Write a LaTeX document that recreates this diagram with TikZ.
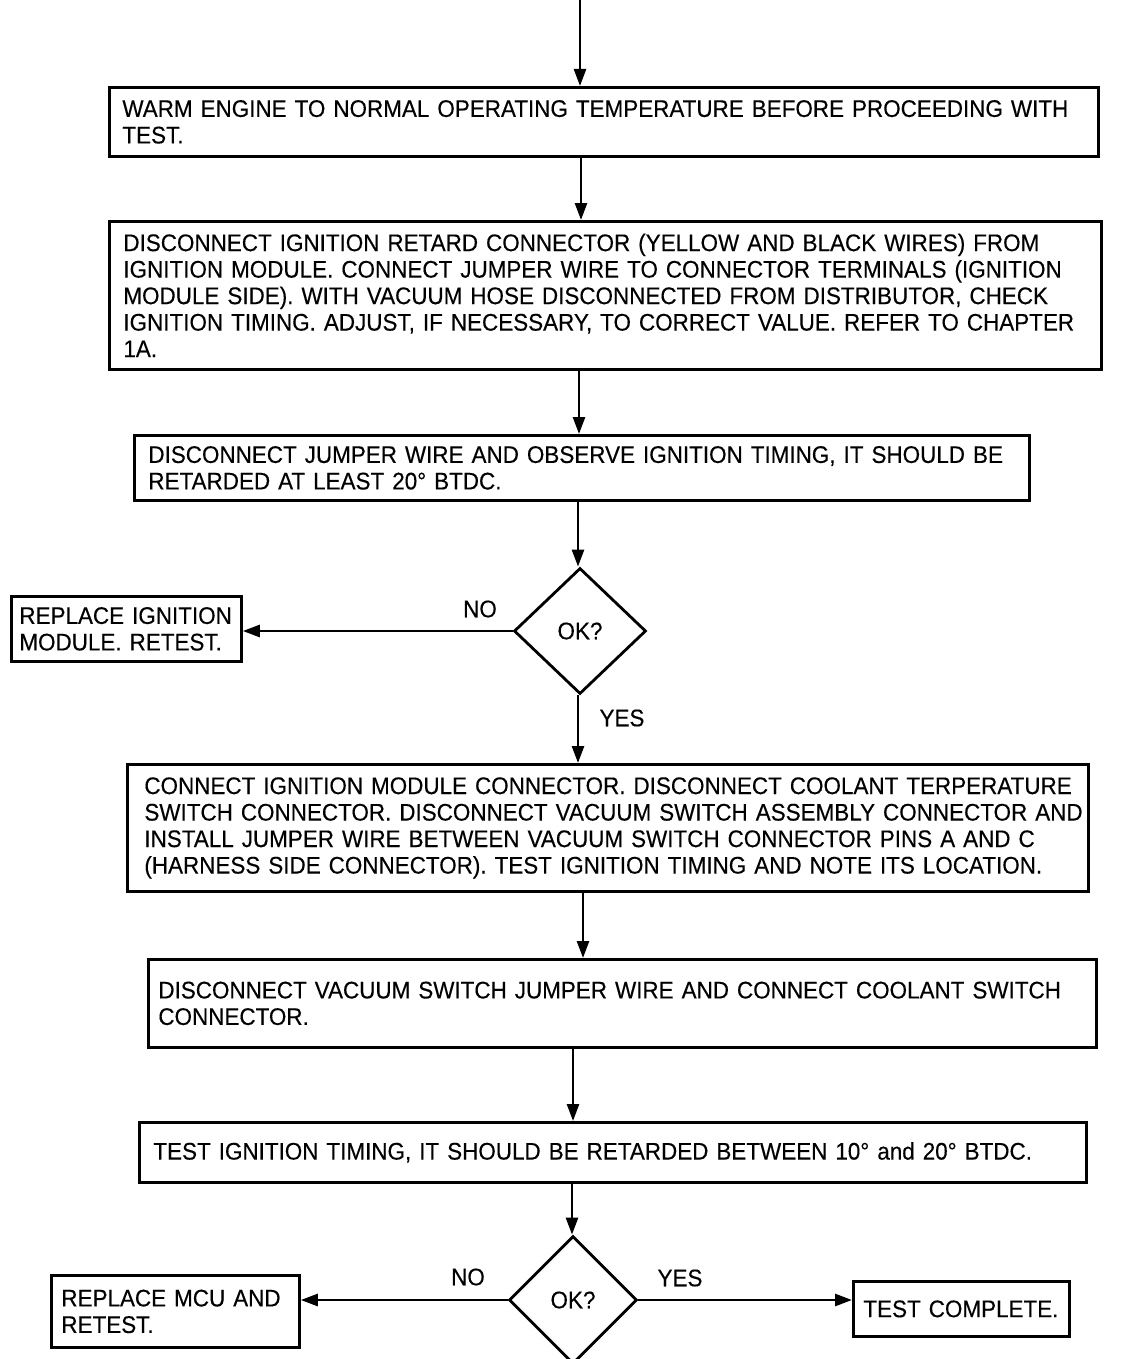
\documentclass[tikz,border=0pt]{standalone}
\usepackage{fontspec}
\setmainfont{Liberation Sans}[FakeStretch=0.935,FakeBold=0.3]
\usetikzlibrary{arrows.meta,shapes.geometric}
\begin{document}
\begin{tikzpicture}[x=1pt,y=-1pt,
  every node/.style={font=\fontsize{24}{26.5}\selectfont},
  box/.style={draw, line width=2.8pt, align=left, anchor=north west, inner ysep=3pt},
  dec/.style={draw, line width=2.8pt, shape=diamond, inner sep=0pt},
  arr/.style={line width=2.6pt, -{Triangle[length=17pt,width=12pt]}},
  lbl/.style={inner sep=0pt}]
\useasboundingbox (0,0) rectangle (1121,1359);
\coordinate (start) at (580,0);
\node[box, inner xsep=13pt, text width=963pt, minimum height=69pt] (b1) at (108,86)
  {WARM ENGINE TO NORMAL OPERATING TEMPERATURE BEFORE PROCEEDING WITH\\TEST.};
\node[box, inner xsep=14pt, text width=964pt, minimum height=148pt] (b2) at (108,220)
  {DISCONNECT IGNITION RETARD CONNECTOR (YELLOW AND BLACK WIRES) FROM\\
   IGNITION MODULE. CONNECT JUMPER WIRE TO CONNECTOR TERMINALS (IGNITION\\
   MODULE SIDE). WITH VACUUM HOSE DISCONNECTED FROM DISTRIBUTOR, CHECK\\
   \mbox{IGNITION TIMING. ADJUST, IF NECESSARY, TO CORRECT VALUE. REFER TO CHAPTER}\\
   1A.};
\node[box, inner xsep=14pt, text width=867pt, minimum height=65pt] (b3) at (133,434)
  {DISCONNECT JUMPER WIRE AND OBSERVE IGNITION TIMING, IT SHOULD BE\\
   RETARDED AT LEAST 20° BTDC.};
\node[dec, minimum width=132pt, minimum height=126pt] (d1) at (580,631) {OK?};
\node[box, inner xsep=8pt, text width=214pt, minimum height=65pt] (r1) at (10,595)
  {\mbox{REPLACE IGNITION}\\\mbox{MODULE. RETEST.}};
\node[box, inner xsep=17pt, text width=927pt, minimum height=127pt] (b4) at (126,763)
  {\mbox{CONNECT IGNITION MODULE CONNECTOR. DISCONNECT COOLANT TERPERATURE}\\
   \mbox{SWITCH CONNECTOR. DISCONNECT VACUUM SWITCH ASSEMBLY CONNECTOR AND}\\
   \mbox{INSTALL JUMPER WIRE BETWEEN VACUUM SWITCH CONNECTOR PINS A AND C}\\
   \mbox{(HARNESS SIDE CONNECTOR). TEST IGNITION TIMING AND NOTE ITS LOCATION.}};
\node[box, inner xsep=10pt, text width=928pt, minimum height=88pt] (b5) at (147,958)
  {DISCONNECT VACUUM SWITCH JUMPER WIRE AND CONNECT COOLANT SWITCH\\
   CONNECTOR.};
\node[box, inner xsep=14pt, text width=919pt, minimum height=60pt] (b6) at (138,1121)
  {\mbox{TEST IGNITION TIMING, IT SHOULD BE RETARDED BETWEEN 10° and 20° BTDC.}};
\node[dec, minimum width=128pt, minimum height=128pt] (d2) at (573,1300) {OK?};
\node[box, inner xsep=10pt, text width=228pt, minimum height=72pt] (r2) at (50,1274)
  {\mbox{REPLACE MCU AND}\\RETEST.};
\node[box, inner xsep=10pt, text width=196pt, minimum height=55pt] (r3) at (852,1280)
  {\mbox{TEST COMPLETE.}};
\node[lbl] (no1) at (480,609) {NO};
\node[lbl] (yes1) at (622,718) {YES};
\node[lbl] (no2) at (468,1277) {NO};
\node[lbl] (yes2) at (680,1278) {YES};
\coordinate (xa) at (581,0);
\coordinate (xb) at (579,0);
\coordinate (xc) at (578,0);
\coordinate (xd) at (583,0);
\coordinate (xe) at (573,0);
\coordinate (xf) at (572,0);
\draw[arr] (start) -- (start |- b1.north);
\draw[arr] (b1.south -| xa) -- (b2.north -| xa);
\draw[arr] (b2.south -| xb) -- (b3.north -| xb);
\draw[arr] (b3.south -| xc) -- (d1.north -| xc);
\draw[arr] (d1.west) -- (r1.east |- d1.west);
\draw[arr] (d1.south -| xc) -- (b4.north -| xc);
\draw[arr] (b4.south -| xd) -- (b5.north -| xd);
\draw[arr] (b5.south -| xe) -- (b6.north -| xe);
\draw[arr] (b6.south -| xf) -- (d2.north -| xf);
\draw[arr] (d2.west) -- (r2.east |- d2.west);
\draw[arr] (d2.east) -- (r3.west |- d2.east);
\end{tikzpicture}
\end{document}
